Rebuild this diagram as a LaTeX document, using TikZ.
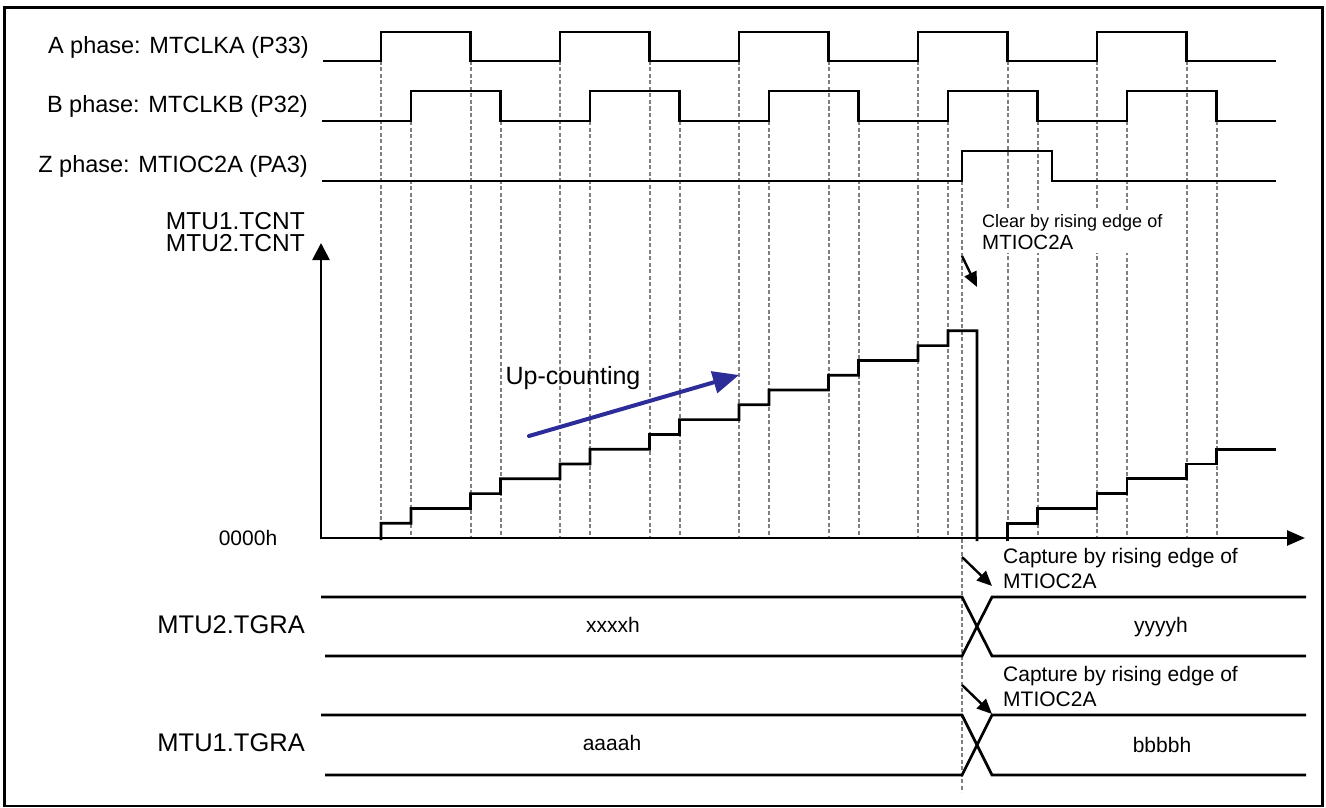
\documentclass[tikz,border=0pt]{standalone}
\usepackage{fontspec}
\setmainfont{Liberation Sans}
\usetikzlibrary{arrows.meta}
\definecolor{upblue}{HTML}{2D2D9A}
\definecolor{guidegray}{HTML}{808080}

\begin{document}
\begin{tikzpicture}[x=1pt, y=-1pt, >={Triangle[length=15pt,width=13pt]},
    wave/.style={line width=2.7pt},
    guide/.style={draw=guidegray, line width=2pt, dash pattern=on 4pt off 2.5pt},
    sigLabel/.style={anchor=east, inner sep=0pt, font=\fontsize{23.5}{26}\selectfont},
    regLabel/.style={anchor=east, inner sep=0pt, font=\fontsize{25.5}{28}\selectfont},
    valText/.style={inner sep=0pt, font=\fontsize{21}{24}\selectfont},
    noteText/.style={anchor=west, align=left, inner sep=0pt, font=\fontsize{21}{25}\selectfont}]
    \useasboundingbox (0,0) rectangle (1326,808);
    \fill[white] (0,0) rectangle (1326,808);
    \draw[line width=2.5pt] (4.5,7.5) rectangle (1322.5,806);

    % Guide lines under every edge of A, B and Z
    \foreach \i in {0,...,9} {
        \draw[guide] ({381+89.5*\i},61) -- ({381+89.5*\i},538);
        \draw[guide] ({411+89.5*\i},121) -- ({411+89.5*\i},538);
    }
    \draw[guide] (962,181) -- (962,792);

    % Input waveforms
    \draw[wave] (323,61) foreach \i in {0,...,4} { -- ({381+179*\i},61) -- ++(0,-29) -- ++(89.5,0) -- ++(0,29) } -- (1276,61);
    \draw[wave] (322,121) foreach \i in {0,...,4} { -- ({411+179*\i},121) -- ++(0,-30) -- ++(89.5,0) -- ++(0,30) } -- (1276,121);
    \draw[wave] (322,181) -- (962,181) -- (962,151) -- (1052,151) -- (1052,181) -- (1276,181);

    \node[sigLabel] (lblA) at (309,47) {A phase: MTCLKA (P33)};
    \node[sigLabel] (lblB) at (308,106) {B phase: MTCLKB (P32)};
    \node[sigLabel] (lblZ) at (308,166) {Z phase: MTIOC2A (PA3)};

    % Counter axes
    \coordinate (origin) at (321,538);
    \coordinate (yTip) at (321,243);
    \coordinate (xTip) at (1305,538);
    \draw[wave, {Triangle[length=17pt,width=17pt]}-{Triangle[length=18pt,width=15pt]}] (yTip) -- (origin) -- (xTip);
    \node[regLabel, align=right, font=\fontsize{24.5}{22}\selectfont] (lblTCNT) at (305,232) {MTU1.TCNT\\MTU2.TCNT};
    \node[valText] (lblZero) at (248,538) {0000h};

    % Counter value
    \draw[wave] (381,540) -- (381,538) foreach \k in {0,...,5} { -- ++(0,-14.8) -- ++(30,0) -- ++(0,-14.8) -- ++(59.5,0) }
        -- ++(0,-14.8) -- ++(30,0) -- ++(0,-14.8) -- (977,330.8) -- (977,541);
    \draw[wave] (1007.5,541) -- (1007.5,538) foreach \k in {0,1,2} { -- ++(0,-14.8) -- ++(30,0) -- ++(0,-14.8) -- ++(59.5,0) };

    \node[inner sep=0pt, font=\fontsize{25}{28}\selectfont] (upCnt) at (573,378) {Up-counting};
    \coordinate (upFrom) at (529,436);
    \coordinate (upTo) at (739,375);
    \draw[->, upblue, line width=4pt, line cap=round, >={Triangle[length=26pt,width=22pt]}] (upFrom) -- (upTo);

    \node[fill=white, anchor=west, align=left, inner sep=3pt, font=\fontsize{18}{22}\selectfont] (clrTxt) at (979,232)
        {Clear by rising edge of\\{\fontsize{20.5}{22}\selectfont MTIOC2A}};
    \coordinate (clrFrom) at (962,256);
    \coordinate (clrTo) at (977,287);
    \draw[->, line width=2.4pt] (clrFrom) -- (clrTo);

    % Capture registers
    \draw[wave] (321,597) -- (962,597) -- (992,656) -- (1306,656);
    \draw[wave] (325,656) -- (962,656) -- (992,597) -- (1306,597);
    \draw[wave] (321,715) -- (962,715) -- (992,775) -- (1306,775);
    \draw[wave] (325,775) -- (962,775) -- (992,715) -- (1306,715);

    \node[regLabel] (lblTGRA2) at (305,625) {MTU2.TGRA};
    \node[regLabel] (lblTGRA1) at (305,743) {MTU1.TGRA};
    \node[valText] (valX) at (613,625) {xxxxh};
    \node[valText] (valY) at (1161,627) {yyyyh};
    \node[valText] (valA) at (612,743) {aaaah};
    \node[valText] (valB) at (1162,745) {bbbbh};

    \node[noteText] (capTxt2) at (1003,568) {Capture by rising edge of\\MTIOC2A};
    \node[noteText] (capTxt1) at (1003,686) {Capture by rising edge of\\MTIOC2A};
    \coordinate (capFrom2) at (962,557);
    \coordinate (capTo2) at (992,586);
    \coordinate (capFrom1) at (962,685);
    \coordinate (capTo1) at (992,714);
    \draw[->, line width=2.4pt] (capFrom2) -- (capTo2);
    \draw[->, line width=2.4pt] (capFrom1) -- (capTo1);
\end{tikzpicture}
\end{document}
